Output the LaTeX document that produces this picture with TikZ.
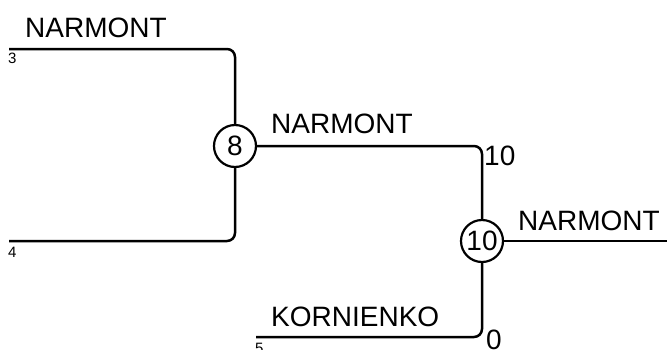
\documentclass[tikz,border=0pt]{standalone}
\usepackage{fontspec}
\setmainfont{Liberation Sans}
\begin{document}
\begin{tikzpicture}[x=1pt,y=-1pt,
  wire/.style={line width=2.5pt,rounded corners=8pt},
  circ/.style={circle,draw,line width=2.2pt,minimum size=42pt,inner sep=0pt,font=\fontsize{28}{28}\selectfont,fill=white},
  big/.style={anchor=base west,inner sep=0pt,font=\fontsize{28}{28}\selectfont},
  small/.style={anchor=base west,inner sep=0pt,font=\fontsize{15}{15}\selectfont}]
\useasboundingbox (0,0) rectangle (667,349);
\coordinate (s3) at (9,49);
\coordinate (s4) at (9,241);
\coordinate (s5) at (256,337);
\coordinate (out) at (667,241);
\node[circ] (n8) at (235,146) {8};
\node[circ] (n10) at (482,241) {10};
\draw[wire] (s3) -- (s3 -| n8) -- (n8);
\draw[wire] (s4) -- (s4 -| n8) -- (n8);
\draw[wire] (n8) -- (n8 -| n10) -- (n10);
\draw[wire] (s5) -- (s5 -| n10) -- (n10);
\draw[wire] (n10) -- (out);
\node[big] (l1) at (25,37) {NARMONT};
\node[big] (l2) at (271,133) {NARMONT};
\node[big] (l3) at (518,230) {NARMONT};
\node[big] (l4) at (271,326) {KORNIENKO};
\node[big] (l5) at (484,165) {10};
\node[big] (l6) at (486,349) {0};
\node[small] (a3) at (8,63) {3};
\node[small] (a4) at (8,257) {4};
\node[small] (a5) at (255,353) {5};
\end{tikzpicture}
\end{document}
